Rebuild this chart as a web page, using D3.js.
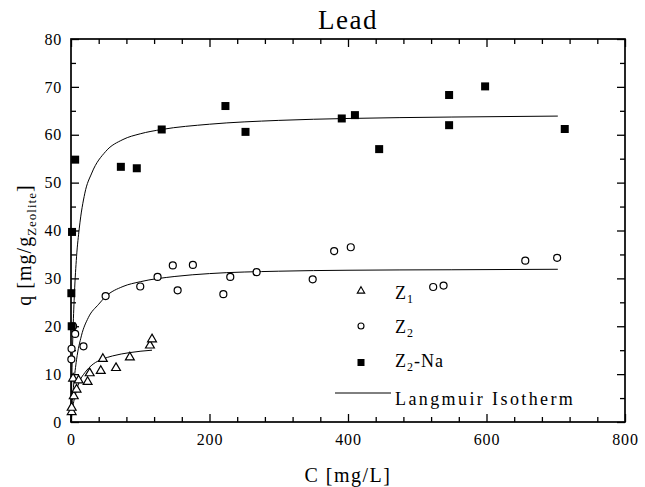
<!DOCTYPE html>
<html><head><meta charset="utf-8">
<script src="https://cdn.jsdelivr.net/npm/d3@7"></script>
<style>
body{margin:0;background:#fff}
svg text{font-family:"Liberation Serif","Times New Roman",serif;fill:#000}
</style>
</head><body>
<svg id="chart" width="645" height="487"></svg>
<script>
// ---- data ----
const z1 = [[1,2.3],[1,3.2],[4,5.6],[3,9.3],[8,7.0],[11,8.9],[24,8.6],[27,10.4],[43,10.9],[46,13.4],[65,11.5],[85,13.7],[114,16.2],[117,17.5]];
const z2 = [[0.5,13.1],[0.8,15.3],[3,20.0],[6,18.4],[18,15.8],[50,26.3],[100,28.3],[125,30.3],[147,32.7],[154,27.5],[176,32.8],[220,26.7],[230,30.3],[268,31.3],[349,29.8],[380,35.7],[404,36.5],[523,28.2],[538,28.5],[656,33.7],[702,34.3]];
const z2na = [[0.5,26.9],[1,20.0],[1.5,39.7],[6,54.8],[72,53.3],[95,53.0],[131,61.1],[223,66.0],[252,60.6],[391,63.4],[410,64.1],[445,57.0],[546,68.3],[546,62.0],[598,70.1],[713,61.2]];
// Langmuir isotherm lines
const fitZ1 = [[0,0],[1,1.3],[2,2.5],[4,4.3],[7,6.1],[10,7.6],[13,8.7],[20,10.3],[32,12.1],[45,13.1],[60,13.8],[85,14.5],[117,15.0]];
const fitZ2 = [[0,0],[2,4.5],[4,8],[8,13],[15,18],[25,21.8],[40,24.6],[50,26.2],[75,28.3],[100,29.3],[150,30.4],[200,31],[300,31.5],[400,31.7],[550,31.8],[703,31.9]];
const fitZ2na = [[0,0],[1,8],[2,14.5],[3,19.5],[5,27],[8,34.5],[12,40.5],[20,47.8],[30,52],[50,56.5],[75,59],[100,60.2],[131,61.1],[200,62.2],[300,63],[400,63.4],[550,63.7],[703,63.9]];
const xTicks = [0,200,400,600,800];
const xMinor = [40,80,120,160,240,280,320,360,440,480,520,560,640,680,720,760];
const yTicks = [0,10,20,30,40,50,60,70,80];
const yMinor = [5,15,25,35,45,55,65,75];

// ---- layout ----
const L=71, R=625, T=39, B=422;
const svg = d3.select("#chart");
const x = d3.scaleLinear().domain([0,800]).range([L,R]);
const y = d3.scaleLinear().domain([0,80]).range([B,T]);

// axes (ticks inward)
function axis(gen, tr, vals, size, labels){
  const g = svg.append("g").attr("transform", tr)
    .call(gen.tickValues(vals).tickSize(size).tickPadding(6).tickFormat(labels ? d3.format("d") : ""));
  g.select(".domain").remove();
  g.selectAll("line").attr("stroke","#000").attr("stroke-width",1.3);
  g.selectAll("text").style("font-size","16px").style("letter-spacing","0.8px")
    .style("font-family",'"Liberation Serif",serif');
  return g;
}
const xb = axis(d3.axisBottom(x), `translate(0,${B})`, xTicks, -8, true);
xb.selectAll("text").attr("y", 12);
axis(d3.axisBottom(x), `translate(0,${B})`, xMinor, -5, false);
axis(d3.axisTop(x), `translate(0,${T})`, xTicks, -8, false);
axis(d3.axisTop(x), `translate(0,${T})`, xMinor, -5, false);
const yl = axis(d3.axisLeft(y), `translate(${L},0)`, yTicks, -8, true);
yl.selectAll("text").attr("x", -9);
axis(d3.axisLeft(y), `translate(${L},0)`, yMinor, -5, false);
axis(d3.axisRight(y), `translate(${R},0)`, yTicks, -8, false);
axis(d3.axisRight(y), `translate(${R},0)`, yMinor, -5, false);

svg.append("rect").attr("x",L).attr("y",T).attr("width",R-L).attr("height",B-T)
  .attr("fill","none").attr("stroke","#000").attr("stroke-width",1.7);

// fit lines
const line = d3.line().x(d=>x(d[0])).y(d=>y(d[1])).curve(d3.curveMonotoneX);
[fitZ1, fitZ2, fitZ2na].forEach(f=>{
  svg.append("path").attr("d", line(f)).attr("fill","none").attr("stroke","#000").attr("stroke-width",1);
});

// markers
const tri = d3.symbol().type(d3.symbolTriangle).size(34);
svg.append("g").selectAll("path").data(z1).join("path")
  .attr("d", tri).attr("transform", d=>`translate(${x(d[0])},${y(d[1])+1})`)
  .attr("fill","#fff").attr("stroke","#000").attr("stroke-width",1.2);
svg.append("g").selectAll("circle").data(z2).join("circle")
  .attr("cx", d=>x(d[0])).attr("cy", d=>y(d[1])).attr("r",3.5)
  .attr("fill","#fff").attr("stroke","#000").attr("stroke-width",1.2);
svg.append("g").selectAll("rect").data(z2na).join("rect")
  .attr("x", d=>x(d[0])-4).attr("y", d=>y(d[1])-4).attr("width",8).attr("height",8)
  .attr("fill","#000");

// legend
const lg = svg.append("g");
const lx = 361, tx = 395;
lg.append("path").attr("d", d3.symbol().type(d3.symbolTriangle).size(24)())
  .attr("transform",`translate(${lx},291)`).attr("fill","#fff").attr("stroke","#000").attr("stroke-width",1.1);
lg.append("circle").attr("cx",lx).attr("cy",326).attr("r",3).attr("fill","#fff").attr("stroke","#000").attr("stroke-width",1.1);
lg.append("rect").attr("x",lx-3.5).attr("y",359).attr("width",7).attr("height",7).attr("fill","#000");
lg.append("line").attr("x1",335).attr("x2",391).attr("y1",393).attr("y2",393).attr("stroke","#000").attr("stroke-width",1);
function zlabel(yb, sub, rest){
  const t = lg.append("text").attr("x",tx).attr("y",yb).style("font-size","18px").style("letter-spacing","1px");
  t.append("tspan").text("Z");
  t.append("tspan").attr("dy",4).style("font-size","12px").text(sub);
  if(rest) t.append("tspan").attr("dy",-4).text(rest);
}
zlabel(299,"1");
zlabel(333,"2");
zlabel(367,"2","-Na");
lg.append("text").attr("x",tx).attr("y",405).style("font-size","18px").style("letter-spacing","2.4px").text("Langmuir Isotherm");

// titles
svg.append("text").attr("x",(L+R)/2).attr("y",29).attr("text-anchor","middle")
  .style("font-size","27px").style("letter-spacing","1.5px").text("Lead");
svg.append("text").attr("x",(L+R)/2).attr("y",482).attr("text-anchor","middle")
  .style("font-size","20px").style("letter-spacing","1.5px").text("C [mg/L]");
const yt = svg.append("text").attr("transform","translate(31,245) rotate(-90)").attr("text-anchor","middle")
  .style("font-size","20px").style("letter-spacing","1px");
yt.append("tspan").text("q [mg/g");
yt.append("tspan").attr("dy",5).style("font-size","13px").text("Zeolite");
yt.append("tspan").attr("dy",-5).text("]");
</script>
</body></html>
